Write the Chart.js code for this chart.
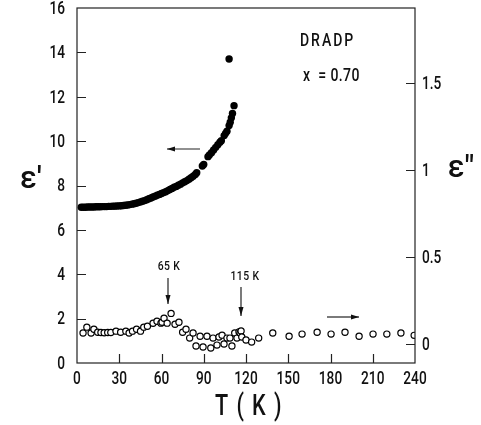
<!DOCTYPE html>
<html>
<head>
<meta charset="utf-8">
<script src="https://cdn.jsdelivr.net/npm/chart.js@4/dist/chart.umd.min.js"></script>
<style>
  html, body { margin: 0; padding: 0; background: #fff; }
  #wrap { width: 481px; height: 425px; }
</style>
</head>
<body>
<div id="wrap"><canvas id="dielChart" width="481" height="425"></canvas></div>
<script>
// eps' (filled dots, left axis)
const epsRealT = [3, 4.5, 6, 7.5, 9, 10.5, 12, 13.5, 15, 16.5, 18, 19.5, 21, 22.5, 24, 25.5, 27, 28.5,
    30, 31.5, 33, 34.5, 36, 37.5, 39, 40.5, 42, 43.5, 45, 46.5, 48, 49.5, 51, 52.5, 54, 55.5, 57, 58.5,
    60, 61.5, 63, 64.5, 66, 67.5, 69, 70.5, 72, 73.5, 75, 76.5, 78, 79.5, 81, 82.5, 84, 85,
    89, 90, 93, 94, 95.5, 97, 98.5, 100, 101.5, 102.5, 104.5, 105.5, 106.5,
    108, 108.8, 109.6, 110.4, 111.5, 108];
const epsReal = [7.02, 7.02, 7.02, 7.03, 7.03, 7.03, 7.03, 7.04, 7.04, 7.04, 7.05, 7.05, 7.05, 7.06, 7.06, 7.07, 7.07, 7.08,
    7.08, 7.09, 7.1, 7.11, 7.12, 7.14, 7.16, 7.18, 7.2, 7.23, 7.26, 7.29, 7.32, 7.36, 7.4, 7.44, 7.48, 7.52, 7.56, 7.6,
    7.64, 7.68, 7.72, 7.77, 7.82, 7.87, 7.92, 7.96, 8.01, 8.06, 8.12, 8.17, 8.22, 8.28, 8.35, 8.42, 8.5, 8.58,
    8.88, 8.95, 9.3, 9.38, 9.48, 9.6, 9.72, 9.84, 9.95, 10.02, 10.25, 10.35, 10.45,
    10.7, 10.85, 11.05, 11.25, 11.6, 13.7];

// eps'' (open circles, right axis)
const epsImagT = [4.3, 7, 10, 12, 14.7, 17, 19.3, 21.8, 24, 27.7, 31, 34.7, 37, 39.4, 42.3, 45.1, 47.4, 50,
    54, 56.8, 59.6, 60.4, 61.8, 64, 66.8, 69.6, 72.4, 75, 77.4, 80, 82.4, 84.5, 87.4, 89.5, 92.3, 95,
    96.6, 99.4, 100.8, 103, 104.4, 106.5, 108.6, 110, 112, 113.6, 115, 115.8, 116.5, 117, 120, 124, 129,
    139, 150.6, 159.8, 170.5, 180.4, 190.3, 200.3, 210.2, 220, 230, 239.4];
const epsImag = [0.063, 0.097, 0.063, 0.085, 0.068, 0.066, 0.065, 0.066, 0.066, 0.074, 0.068, 0.074, 0.063, 0.074, 0.085, 0.074, 0.097, 0.102,
    0.119, 0.131, 0.12, 0.125, 0.148, 0.12, 0.176, 0.114, 0.125, 0.068, 0.085, 0.034, 0.063, -0.011, 0.045, -0.017, 0.045, -0.023,
    0.034, -0.006, 0.04, 0.051, 0, 0.034, 0.034, -0.011, 0.063, 0.034, 0.07, 0.063, 0.075, 0.04, 0.023, 0.011, 0.034,
    0.063, 0.045, 0.057, 0.068, 0.057, 0.068, 0.045, 0.057, 0.057, 0.063, 0.05];

const xTicks = [0, 30, 60, 90, 120, 150, 180, 210, 240];
const leftTicks = [0, 2, 4, 6, 8, 10, 12, 14, 16];
const rightTicks = [0, 0.5, 1, 1.5];

const FONT = "Roboto, 'DejaVu Sans', sans-serif";

function pairs(xs, ys) {
    return xs.map((x, i) => ({ x: x, y: ys[i] }));
}

// narrow text: squeeze horizontally to mimic the condensed lettering
function narrowText(ctx, str, x, y, size, align, squeeze, spacing) {
    ctx.save();
    ctx.font = '500 ' + size + 'px ' + FONT;
    ctx.letterSpacing = (spacing || 0) + 'px';
    ctx.textBaseline = 'middle';
    ctx.textAlign = align;
    ctx.translate(x, y);
    ctx.scale(squeeze, 1);
    ctx.fillText(str, 0, 0);
    ctx.restore();
}

// frame, inward ticks, labels and arrows
const decorations = {
    id: 'decorations',
    afterDraw(chart) {
        const ctx = chart.ctx;
        const a = chart.chartArea;
        const sx = chart.scales.x, sy = chart.scales.y, sy1 = chart.scales.y1;
        ctx.save();
        ctx.strokeStyle = '#222';
        ctx.fillStyle = '#111';
        ctx.lineWidth = 1.2;
        ctx.strokeRect(a.left, a.top, a.right - a.left, a.bottom - a.top);

        ctx.beginPath();
        leftTicks.slice(1, -1).forEach(v => {
            const p = Math.round(sy.getPixelForValue(v)) + 0.5;
            ctx.moveTo(a.left, p); ctx.lineTo(a.left + 9, p);
        });
        xTicks.slice(1, -1).forEach(v => {
            const p = Math.round(sx.getPixelForValue(v)) + 0.5;
            ctx.moveTo(p, a.bottom); ctx.lineTo(p, a.bottom - 9);
        });
        rightTicks.forEach(v => {
            const p = Math.round(sy1.getPixelForValue(v)) + 0.5;
            ctx.moveTo(a.right, p); ctx.lineTo(a.right - 9, p);
        });
        ctx.stroke();

        // tick labels
        leftTicks.forEach(v => narrowText(ctx, String(v), a.left - 12, sy.getPixelForValue(v) + 1, 19, 'right', 0.72));
        xTicks.forEach(v => narrowText(ctx, String(v), sx.getPixelForValue(v), a.bottom + 16, 19, 'center', 0.72));
        rightTicks.forEach(v => narrowText(ctx, String(v), a.right + 7, sy1.getPixelForValue(v) + 1, 19, 'left', 0.72));

        narrowText(ctx, 'DRADP', 300, 41, 18, 'left', 0.78, 2.5);
        narrowText(ctx, 'x  = 0.70', 303, 76, 18, 'left', 0.78, 0.5);
        narrowText(ctx, '65 K', 169, 267, 13, 'center', 0.8, 0.5);
        narrowText(ctx, '115 K', 245, 277, 13, 'center', 0.8, 0.5);

        narrowText(ctx, '\u03b5\u2032', 31, 180, 32, 'center', 0.95, 0);
        narrowText(ctx, '\u03b5\u2033', 461, 169, 32, 'center', 0.95, 0);
        narrowText(ctx, 'T ( K )', 249, 407, 30, 'center', 0.72, 2);

        // arrows
        const arrow = (x1, y1, x2, y2, head) => {
            const ang = Math.atan2(y2 - y1, x2 - x1);
            ctx.beginPath();
            ctx.moveTo(x1, y1); ctx.lineTo(x2, y2);
            ctx.lineWidth = 1.2;
            ctx.stroke();
            ctx.beginPath();
            ctx.moveTo(x2, y2);
            ctx.lineTo(x2 - head * Math.cos(ang) + 2.5 * Math.sin(ang), y2 - head * Math.sin(ang) - 2.5 * Math.cos(ang));
            ctx.lineTo(x2 - head * Math.cos(ang) - 2.5 * Math.sin(ang), y2 - head * Math.sin(ang) + 2.5 * Math.cos(ang));
            ctx.closePath();
            ctx.fill();
        };
        arrow(168, 278, 168, 304, 9);
        arrow(241, 287, 241, 316, 9);
        arrow(200, 149, 167, 149, 8);
        arrow(327, 317, 359, 317, 8);
        ctx.restore();
    }
};

new Chart(document.getElementById('dielChart'), {
    type: 'scatter',
    data: {
        datasets: [{
            label: "eps'",
            data: pairs(epsRealT, epsReal),
            yAxisID: 'y',
            pointRadius: 3.7,
            pointBackgroundColor: '#000',
            pointBorderColor: '#000',
            pointBorderWidth: 0
        }, {
            label: "eps''",
            data: pairs(epsImagT, epsImag),
            yAxisID: 'y1',
            pointRadius: 3.1,
            pointBackgroundColor: '#fff',
            pointBorderColor: '#000',
            pointBorderWidth: 1.2
        }]
    },
    plugins: [decorations],
    options: {
        responsive: false,
        animation: false,
        layout: { padding: { top: 8, left: 0, right: 0, bottom: 0 } },
        plugins: { legend: { display: false }, tooltip: { enabled: false } },
        scales: {
            x: {
                type: 'linear', min: 0, max: 240,
                grid: { display: false }, border: { display: false },
                afterBuildTicks: s => { s.ticks = xTicks.map(v => ({ value: v })); },
                afterFit: s => { s.height = 62; },
                ticks: { display: false }
            },
            y: {
                position: 'left', min: 0, max: 16,
                grid: { display: false }, border: { display: false },
                afterBuildTicks: s => { s.ticks = leftTicks.map(v => ({ value: v })); },
                afterFit: s => { s.width = 77; },
                ticks: { display: false }
            },
            y1: {
                position: 'right', min: -0.109, max: 1.931,
                grid: { display: false }, border: { display: false },
                afterBuildTicks: s => { s.ticks = rightTicks.map(v => ({ value: v })); },
                afterFit: s => { s.width = 66; },
                ticks: { display: false }
            }
        }
    }
});
</script>
</body>
</html>
